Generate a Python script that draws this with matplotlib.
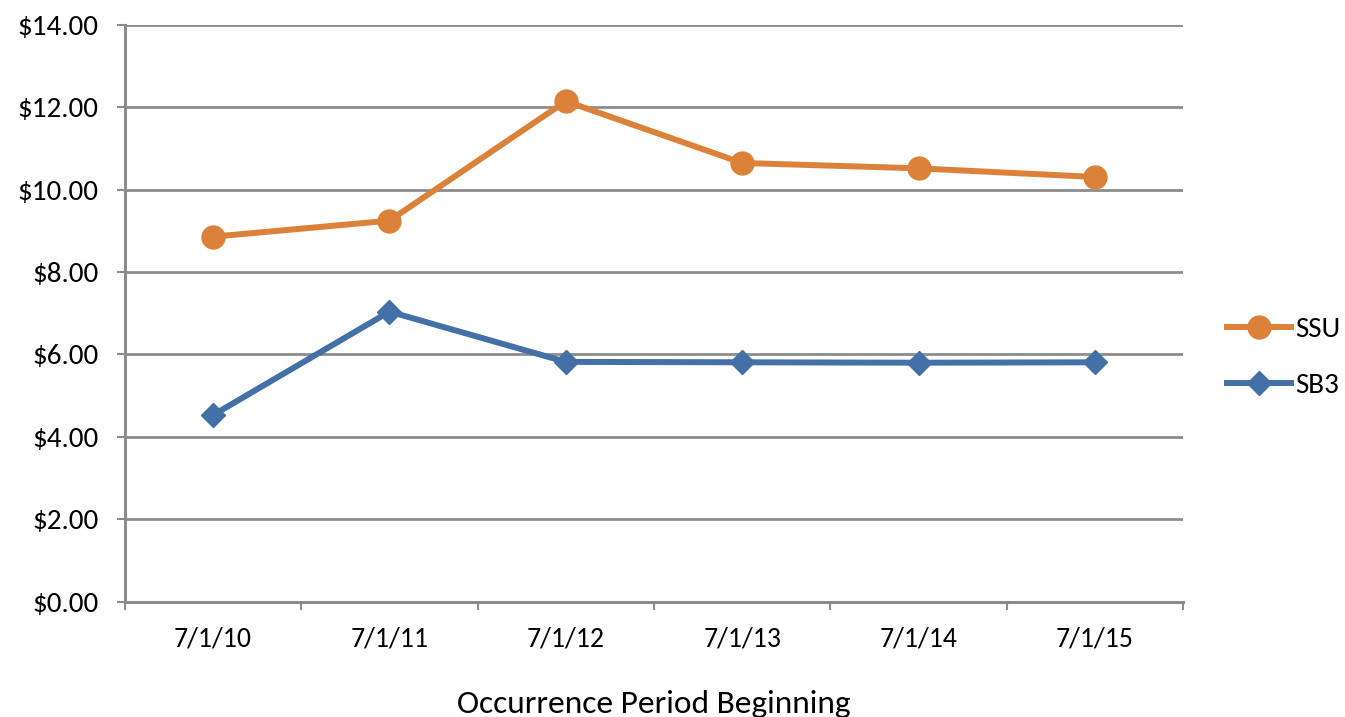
import matplotlib
matplotlib.use('Agg')
import matplotlib.pyplot as plt
from matplotlib.ticker import FuncFormatter, FixedLocator

plt.rcParams['font.family'] = ['Carlito', 'Open Sans', 'DejaVu Sans']

# Data
periods = ['7/1/10', '7/1/11', '7/1/12', '7/1/13', '7/1/14', '7/1/15']
ssu = [8.86, 9.25, 12.15, 10.65, 10.52, 10.31]
sb3 = [4.53, 7.04, 5.82, 5.81, 5.80, 5.81]
y_ticks = [0, 2, 4, 6, 8, 10, 12, 14]

orange = '#DB8139'
blue = '#4370A6'
grey = '#8C8C8C'

fig = plt.figure(figsize=(13.45, 7.17), dpi=100)
ax = fig.add_axes([0.0929, 0.161, 0.7867, 0.8041])

x = list(range(len(periods)))
ax.plot(x, ssu, color=orange, lw=4.3, marker='o', ms=16.5, label='SSU', zorder=3)
ax.plot(x, sb3, color=blue, lw=4.3, marker='D', ms=12.5, label='SB3', zorder=3)

ax.set_xlim(-0.5, len(periods) - 0.5)
ax.set_ylim(0, 14)
ax.set_yticks(y_ticks)
ax.yaxis.set_major_formatter(FuncFormatter(lambda v, p: '${:.2f}'.format(v)))
ax.set_xticks(x)
ax.set_xticklabels(periods)
ax.xaxis.set_minor_locator(FixedLocator([i - 0.5 for i in range(len(periods) + 1)]))

ax.grid(axis='y', color=grey, lw=2, zorder=1)
ax.set_axisbelow(True)
for s in ['top', 'right']:
    ax.spines[s].set_visible(False)
for s in ['left', 'bottom']:
    ax.spines[s].set_color(grey)
    ax.spines[s].set_linewidth(2.2)

ax.tick_params(axis='y', length=6, width=1.5, color=grey, pad=13, labelsize=21)
ax.tick_params(axis='x', which='major', length=0, pad=18, labelsize=20)
ax.tick_params(axis='x', which='minor', length=6, width=1.5, color=grey)

ax.set_xlabel('Occurrence Period Beginning', fontsize=24, labelpad=28)

fig.legend(loc='center left', bbox_to_anchor=(0.912, 0.502), frameon=False,
           fontsize=21, handlelength=2.2, handletextpad=0.15, labelspacing=1.05,
           borderpad=0, borderaxespad=0)

fig.savefig('out.png', dpi=100)
